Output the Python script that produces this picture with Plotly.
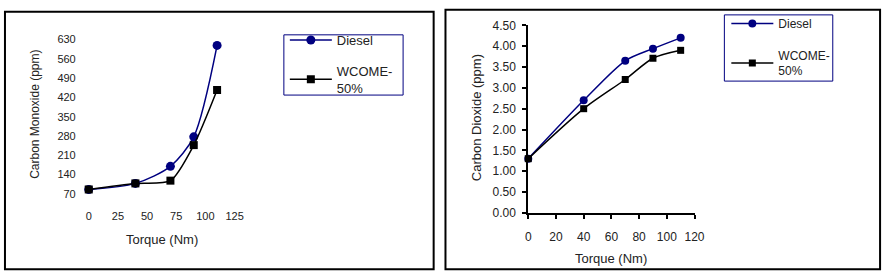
import plotly.graph_objects as go

W, H = 895, 280

torque = [0, 40, 70, 90, 110]
co_diesel = [86, 108, 170, 277, 609]
co_wcome = [86, 108, 118, 247, 447]
co2_diesel = [1.30, 2.70, 3.65, 3.94, 4.20]
co2_wcome = [1.30, 2.50, 3.20, 3.71, 3.90]

co_xticks = [0, 25, 50, 75, 100, 125]
co_yticks = [70, 140, 210, 280, 350, 420, 490, 560, 630]
co2_xticks = [0, 20, 40, 60, 80, 100, 120]
co2_yticks = [0.0, 0.5, 1.0, 1.5, 2.0, 2.5, 3.0, 3.5, 4.0, 4.5]

NAVY = "#000080"
FONT = "Liberation Sans, Arial, sans-serif"
TXT = "#222222"


def fx(px):
    return px / W


def fy(py):
    return 1 - py / H


fig = go.Figure()

# Left chart: Carbon monoxide
fig.add_trace(go.Scatter(x=torque, y=co_diesel, name="Diesel", mode="lines+markers",
                         line=dict(color=NAVY, width=1.5, shape="spline", smoothing=0.8),
                         marker=dict(symbol="circle", size=9, color=NAVY),
                         cliponaxis=False, xaxis="x", yaxis="y", legend="legend",
                         legendgroup="a"))
fig.add_trace(go.Scatter(x=torque, y=co_wcome, name="WCOME-<br>50%", mode="lines+markers",
                         line=dict(color="black", width=1.5, shape="spline", smoothing=0.7),
                         marker=dict(symbol="square", size=8, color="black"),
                         cliponaxis=False, xaxis="x", yaxis="y", legend="legend",
                         legendgroup="b"))

# Right chart: Carbon dioxide
fig.add_trace(go.Scatter(x=torque, y=co2_diesel, name="Diesel", mode="lines+markers",
                         line=dict(color=NAVY, width=1.5, shape="spline", smoothing=0.8),
                         marker=dict(symbol="circle", size=8, color=NAVY),
                         cliponaxis=False, xaxis="x2", yaxis="y2", legend="legend2",
                         legendgroup="c"))
fig.add_trace(go.Scatter(x=torque, y=co2_wcome, name="WCOME-<br>50%", mode="lines+markers",
                         line=dict(color="black", width=1.5, shape="spline", smoothing=0.8),
                         marker=dict(symbol="square", size=7, color="black"),
                         cliponaxis=False, xaxis="x2", yaxis="y2", legend="legend2",
                         legendgroup="d"))

left_font = dict(family=FONT, size=11, color=TXT)
right_font = dict(family=FONT, size=12, color=TXT)
legend_font = dict(family=FONT, size=13, color=TXT)
legend2_font = dict(family=FONT, size=12, color=TXT)

fig.update_layout(
    width=W, height=H,
    margin=dict(l=0, r=0, t=0, b=0),
    paper_bgcolor="white", plot_bgcolor="white",
    xaxis=dict(domain=[fx(87), fx(235)], range=[0, 125], tickvals=co_xticks,
               showgrid=False, zeroline=False, showline=False, ticks="",
               ticklabelstandoff=14, tickfont=left_font, anchor="y"),
    yaxis=dict(domain=[fy(196.7), fy(34.3)], range=[70, 630], tickvals=co_yticks,
               showgrid=False, zeroline=False, showline=False, ticks="",
               ticklabelstandoff=12, tickfont=left_font, anchor="x"),
    xaxis2=dict(domain=[fx(533), fx(701.7)], range=[0, 120], tickvals=co2_xticks,
                showgrid=False, zeroline=False, showline=True, linecolor="black", linewidth=2,
                ticks="outside", ticklen=4, tickwidth=1.5, tickcolor="black",
                ticklabelstandoff=8, tickfont=right_font, anchor="y2"),
    yaxis2=dict(domain=[fy(216.7), fy(19.3)], range=[0, 4.5], tickvals=co2_yticks,
                tickformat=".2f",
                showgrid=False, zeroline=False, showline=True, linecolor="black", linewidth=2,
                ticks="outside", ticklen=4, tickwidth=1.5, tickcolor="black",
                ticklabelstandoff=4, tickfont=right_font, anchor="x2"),
    legend=dict(x=fx(286), y=fy(19), xanchor="left", yanchor="top",
                borderwidth=0, bgcolor="rgba(0,0,0,0)", itemwidth=42,
                traceorder="grouped", font=legend_font, tracegroupgap=11),
    legend2=dict(x=fx(734), y=fy(2), xanchor="left", yanchor="top",
                 borderwidth=0, bgcolor="rgba(0,0,0,0)", itemwidth=42,
                 traceorder="grouped", font=legend2_font, tracegroupgap=13),
    showlegend=True,
)

# Panel frames
fig.add_shape(type="rect", xref="paper", yref="paper",
              x0=fx(2), x1=fx(437), y0=fy(276), y1=fy(5),
              line=dict(color="black", width=2))
fig.add_shape(type="rect", xref="paper", yref="paper",
              x0=fx(449), x1=fx(890), y0=fy(276), y1=fy(3),
              line=dict(color="black", width=2))
# Legend frames
fig.add_shape(type="rect", xref="paper", yref="paper",
              x0=fx(285), x1=fx(406), y0=fy(92.7), y1=fy(29.3),
              line=dict(color=NAVY, width=1), fillcolor="white", layer="below")
fig.add_shape(type="rect", xref="paper", yref="paper",
              x0=fx(732), x1=fx(842), y0=fy(78), y1=fy(8.3),
              line=dict(color=NAVY, width=1), fillcolor="white", layer="below")

# Axis titles
ann = dict(xref="paper", yref="paper", showarrow=False, xanchor="center", yanchor="middle")
fig.add_annotation(text="Carbon Monoxide (ppm)", x=fx(33), y=fy(113), textangle=-90,
                   font=dict(family=FONT, size=12, color=TXT), **ann)
fig.add_annotation(text="Torque (Nm)", x=fx(161), y=fy(245),
                   font=dict(family=FONT, size=13, color=TXT), **ann)
fig.add_annotation(text="Carbon Dioxide (ppm)", x=fx(480), y=fy(117), textangle=-90,
                   font=dict(family=FONT, size=13, color=TXT), **ann)
fig.add_annotation(text="Torque (Nm)", x=fx(617), y=fy(265),
                   font=dict(family=FONT, size=13, color=TXT), **ann)

fig.write_html("out.html")
